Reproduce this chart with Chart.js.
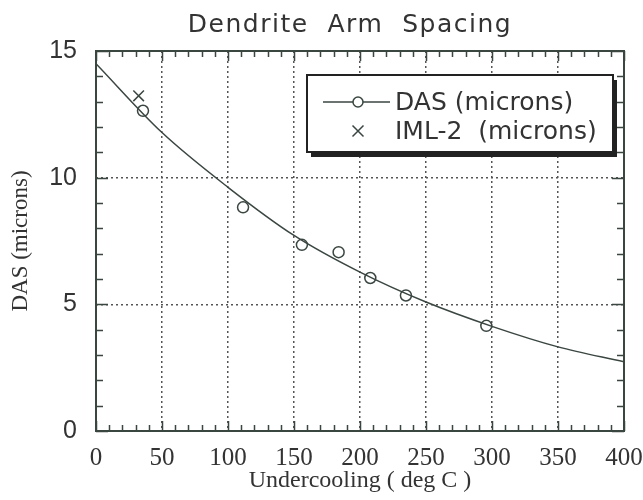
<!DOCTYPE html>
<html><head><meta charset="utf-8">
<script src="https://cdn.jsdelivr.net/npm/chart.js@4/dist/chart.umd.min.js"></script>
<style>html,body{margin:0;padding:0;background:#fff}#wrap{width:643px;height:500px}</style>
</head><body><div id="wrap"><canvas id="c" width="643" height="500"></canvas></div>
<script>
// ---- data ----
const titleText = 'Dendrite  Arm  Spacing';
const xAxisLabel = 'Undercooling ( deg C )';
const yAxisLabel = 'DAS (microns)';
const dasLabel = 'DAS (microns)';
const imlLabel = 'IML-2  (microns)';
const dasUndercooling = [35.6, 111.4, 156, 183.8, 207.8, 234.8, 295.7];
const dasMicrons      = [12.64, 8.83, 7.35, 7.06, 6.04, 5.35, 4.15];
const imlUndercooling = [32.3];
const imlMicrons      = [13.23];
const fitUndercooling = [0, 50, 100, 150, 200, 250, 300, 350, 400];
const fitMicrons      = [14.5, 11.78, 9.62, 7.72, 6.27, 5.09, 4.13, 3.32, 2.73];
const xMin = 0, xMax = 400, xMajor = 50, xMinor = 10;
const yMin = 0, yMax = 15, yMajor = 5, yMinor = 1;

const ink = '#3a4640';
const textInk = '#333';
const toPts = (xs, ys) => xs.map((x, i) => ({x, y: ys[i]}));

const framePlugin = {
  id: 'frame',
  afterDraw(chart) {
    const ctx = chart.ctx, xa = chart.scales.x, ya = chart.scales.y;
    const {left, right, top, bottom} = chart.chartArea;
    ctx.save();
    ctx.strokeStyle = ink; ctx.lineWidth = 1.5;
    ctx.beginPath();
    for (let v = xMin; v <= xMax; v += xMinor) {
      const px = Math.round(xa.getPixelForValue(v)) + 0.5;
      const len = v % xMajor === 0 ? 10 : 6;
      ctx.moveTo(px, bottom); ctx.lineTo(px, bottom - len);
      ctx.moveTo(px, top); ctx.lineTo(px, top + len);
    }
    for (let v = yMin; v <= yMax; v += yMinor) {
      const py = Math.round(ya.getPixelForValue(v)) + 0.5;
      const len = v % yMajor === 0 ? 12 : 7;
      ctx.moveTo(left, py); ctx.lineTo(left + len, py);
      ctx.moveTo(right, py); ctx.lineTo(right - len, py);
    }
    ctx.stroke();
    ctx.lineWidth = 2;
    ctx.strokeRect(left, top, right - left, bottom - top);
    // title
    ctx.fillStyle = textInk;
    ctx.font = '25px "DejaVu Sans"';
    try { ctx.letterSpacing = '1.5px'; } catch (e) {}
    ctx.textAlign = 'center'; ctx.textBaseline = 'alphabetic';
    ctx.fillText(titleText, 350, 32);
    try { ctx.letterSpacing = '0px'; } catch (e) {}
    // legend box
    const bx = 307, by = 75, bw = 306, bh = 77;
    ctx.fillStyle = '#222';
    ctx.fillRect(bx + 4, by + 5, bw, bh);
    ctx.fillStyle = '#fff';
    ctx.fillRect(bx, by, bw, bh);
    ctx.strokeStyle = '#222'; ctx.lineWidth = 2;
    ctx.strokeRect(bx, by, bw, bh);
    const ds = chart.data.datasets;
    const row1 = 102, row2 = 131, sym = 358, tx = 395;
    ctx.strokeStyle = ink; ctx.lineWidth = 1.5;
    ctx.beginPath(); ctx.moveTo(323, row1); ctx.lineTo(390, row1); ctx.stroke();
    ctx.fillStyle = '#fff';
    ctx.beginPath(); ctx.arc(sym, row1, 5, 0, Math.PI * 2); ctx.fill(); ctx.stroke();
    const c = 5.5;
    ctx.beginPath();
    ctx.moveTo(sym - c, row2 - c); ctx.lineTo(sym + c, row2 + c);
    ctx.moveTo(sym - c, row2 + c); ctx.lineTo(sym + c, row2 - c);
    ctx.stroke();
    ctx.fillStyle = textInk;
    ctx.font = '25px "DejaVu Sans"';
    ctx.textAlign = 'left'; ctx.textBaseline = 'middle';
    ctx.fillText(ds[1].label, tx, row1 + 1);
    ctx.fillText(ds[2].label, tx, row2 + 1);
    ctx.restore();
  }
};

new Chart(document.getElementById('c'), {
  type: 'scatter',
  data: {
    datasets: [
      { label: 'fit', type: 'line', data: toPts(fitUndercooling, fitMicrons),
        showLine: true, pointRadius: 0, borderColor: ink, borderWidth: 1.5,
        cubicInterpolationMode: 'monotone', fill: false, order: 3 },
      { label: dasLabel, data: toPts(dasUndercooling, dasMicrons),
        pointStyle: 'circle', pointRadius: 5.5, borderColor: ink, borderWidth: 1.5,
        backgroundColor: 'rgba(255,255,255,0)', order: 1 },
      { label: imlLabel, data: toPts(imlUndercooling, imlMicrons),
        pointStyle: 'crossRot', pointRadius: 7.5, borderColor: ink, borderWidth: 1.5,
        backgroundColor: ink, order: 2 }
    ]
  },
  options: {
    responsive: false, animation: false, devicePixelRatio: 1,
    layout: { padding: { top: 51, right: 19, left: 0, bottom: 0 } },
    plugins: { legend: { display: false }, tooltip: { enabled: false }, title: { display: false } },
    scales: {
      x: {
        type: 'linear', min: xMin, max: xMax,
        ticks: { stepSize: xMajor, color: textInk, padding: 12,
                 font: { family: '"Liberation Serif"', size: 25 } },
        grid: { color: '#555', lineWidth: 1.5, drawTicks: false },
        border: { display: false, dash: [2, 3] },
        title: { display: true, text: xAxisLabel, color: textInk,
                 font: { family: '"Liberation Serif"', size: 24, lineHeight: 1 },
                 padding: { top: 0, bottom: 7 } },
        afterFit(s) { s.height = 69; s.paddingLeft = 0; s.paddingRight = 0; }
      },
      y: {
        type: 'linear', min: yMin, max: yMax,
        ticks: { stepSize: yMajor, color: textInk, padding: 19,
                 font: { family: '"Liberation Sans"', size: 25 } },
        grid: { color: '#555', lineWidth: 1.5, drawTicks: false },
        border: { display: false, dash: [2, 3] },
        title: { display: true, text: yAxisLabel, color: textInk,
                 font: { family: '"Liberation Serif"', size: 23, lineHeight: 1 },
                 padding: { top: 9, bottom: 0 } },
        afterFit(s) { s.width = 96; s.paddingTop = 0; s.paddingBottom = 0; }
      }
    }
  },
  plugins: [framePlugin]
});
</script>
</body></html>
